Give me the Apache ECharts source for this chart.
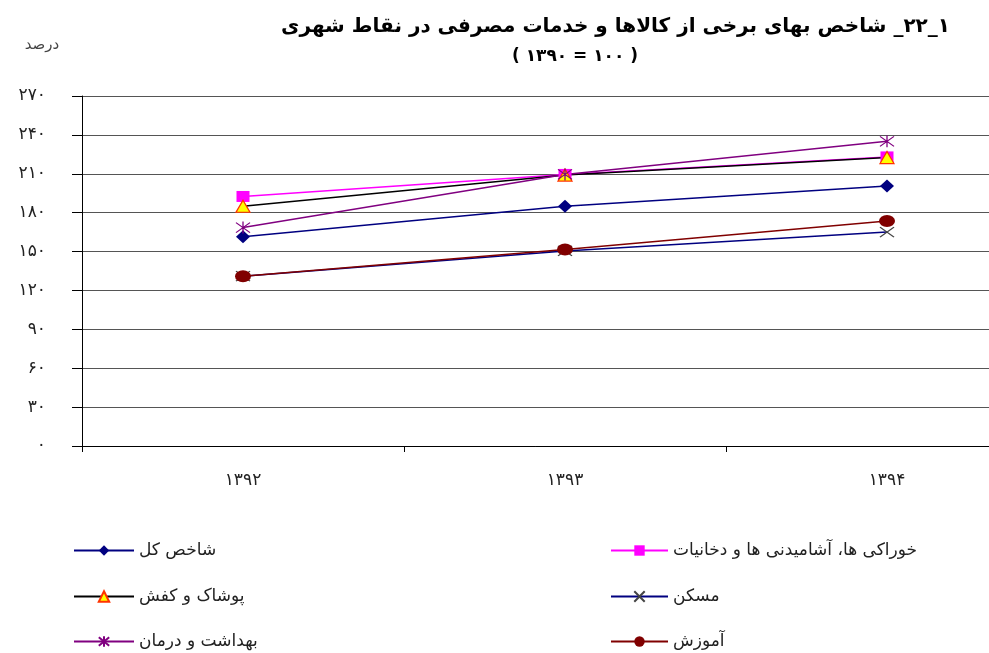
<!DOCTYPE html>
<html><head><meta charset="utf-8">
<script src="https://cdn.jsdelivr.net/npm/echarts@6/dist/echarts.min.js"></script>
<style>html,body{margin:0;padding:0;background:#fff}#c{width:989px;height:653px}</style>
</head><body><div id="c"></div>
<script>
const categories = ['۱۳۹۲', '۱۳۹۳', '۱۳۹۴'];
const totalIndex = [161.5, 185, 200.5];
const foodTobacco = [192.5, 209.5, 223];
const clothing = [185, 209, 222.5];
const housing = [131, 150.5, 165];
const health = [168.5, 209.5, 235];
const education = [131, 151.5, 173.5];
const yTicks = { min: 0, max: 270, step: 30 };
const titleText = '۱_۲۲_ شاخص بهای برخی از کالاها و خدمات مصرفی در نقاط شهری';
const subtitleText = '( ۱۳۹۰ = ۱۰۰ )';
const unitText = 'درصد';

const FONT = 'DejaVu Sans';
const fa = s => String(s).replace(/[0-9]/g, d => '۰۱۲۳۴۵۶۷۸۹'[d]);
const xPath = 'path://M0,0L10,10M10,0L0,10';
const starPath = 'path://M0,0L10,10M10,0L0,10M5,-1L5,11';

const legendText = { fontFamily: FONT, fontSize: 17, color: '#222' };
function leg(name, left, top, w) {
  return { data: [name], left: left, top: top, padding: 0, itemWidth: w, itemHeight: 13, itemGap: 0,
           textStyle: legendText };
}

const chart = echarts.init(document.getElementById('c'), null, { renderer: 'canvas' });
chart.setOption({
  backgroundColor: '#fff',
  animation: false,
  textStyle: { fontFamily: FONT },
  graphic: [
    { type: 'text', x: 950, y: 27, style: { text: '\u202B' + titleText + '\u202C', textAlign: 'right', textVerticalAlign: 'middle',
      font: 'bold 20px "DejaVu Sans"', fill: '#000' } },
    { type: 'text', x: 575, y: 57, style: { text: subtitleText, textAlign: 'center', textVerticalAlign: 'middle',
      font: 'bold 17px "DejaVu Sans"', fill: '#000' } },
    { type: 'text', x: 42, y: 45, style: { text: unitText, textAlign: 'center', textVerticalAlign: 'middle',
      font: '15px "DejaVu Sans"', fill: '#444' } }
  ],
  grid: { left: 82, width: 966, top: 96, bottom: 207, containLabel: false, outerBoundsMode: 'none' },
  xAxis: {
    type: 'category', data: categories, boundaryGap: true,
    axisLine: { lineStyle: { color: '#000', width: 1 } },
    axisTick: { show: true, length: 6, interval: 0, lineStyle: { color: '#000' } },
    axisLabel: { margin: 26, fontSize: 17, color: '#222', fontFamily: FONT },
    splitLine: { show: false }
  },
  yAxis: {
    type: 'value', min: yTicks.min, max: yTicks.max, interval: yTicks.step,
    axisLine: { show: true, lineStyle: { color: '#000', width: 1 } },
    axisTick: { show: true, length: 10, lineStyle: { color: '#000' } },
    axisLabel: { margin: 36, fontSize: 17, color: '#222', fontFamily: FONT, formatter: v => fa(v) },
    splitLine: { show: true, lineStyle: { color: '#555', width: 1 } }
  },
  legend: [
    leg('شاخص کل', 73, 542, 60),
    leg('پوشاک و کفش', 73, 588, 60),
    leg('بهداشت و درمان', 73, 633, 60),
    leg('خوراکی ها، آشامیدنی ها و دخانیات', 610, 542, 57),
    leg('مسکن', 610, 588, 57),
    leg('آموزش', 610, 633, 57)
  ],
  series: [
    { name: 'شاخص کل', type: 'line', data: totalIndex, symbol: 'diamond', symbolSize: [14, 13],
      lineStyle: { color: '#000080', width: 1.5 }, itemStyle: { color: '#000080' } },
    { name: 'خوراکی ها، آشامیدنی ها و دخانیات', type: 'line', data: foodTobacco, symbol: 'rect', symbolSize: [13, 11],
      lineStyle: { color: '#FF00FF', width: 1.5 }, itemStyle: { color: '#FF00FF' } },
    { name: 'پوشاک و کفش', type: 'line', data: clothing, symbol: 'triangle', symbolSize: [14, 12],
      lineStyle: { color: '#000000', width: 1.5 }, itemStyle: { color: '#FFFF00', borderColor: '#FF3300', borderWidth: 1.2 } },
    { name: 'مسکن', type: 'line', data: housing, symbol: xPath, symbolSize: [14, 10],
      lineStyle: { color: '#000080', width: 1.5 }, itemStyle: { color: 'transparent', borderColor: '#444', borderWidth: 1.2 } },
    { name: 'بهداشت و درمان', type: 'line', data: health, symbol: starPath, symbolSize: [14, 12],
      lineStyle: { color: '#800080', width: 1.5 }, itemStyle: { color: 'transparent', borderColor: '#800080', borderWidth: 1.2 } },
    { name: 'آموزش', type: 'line', data: education, symbol: 'circle', symbolSize: [16, 12],
      lineStyle: { color: '#800000', width: 1.5 }, itemStyle: { color: '#800000' } }
  ]
});
</script>
</body></html>
